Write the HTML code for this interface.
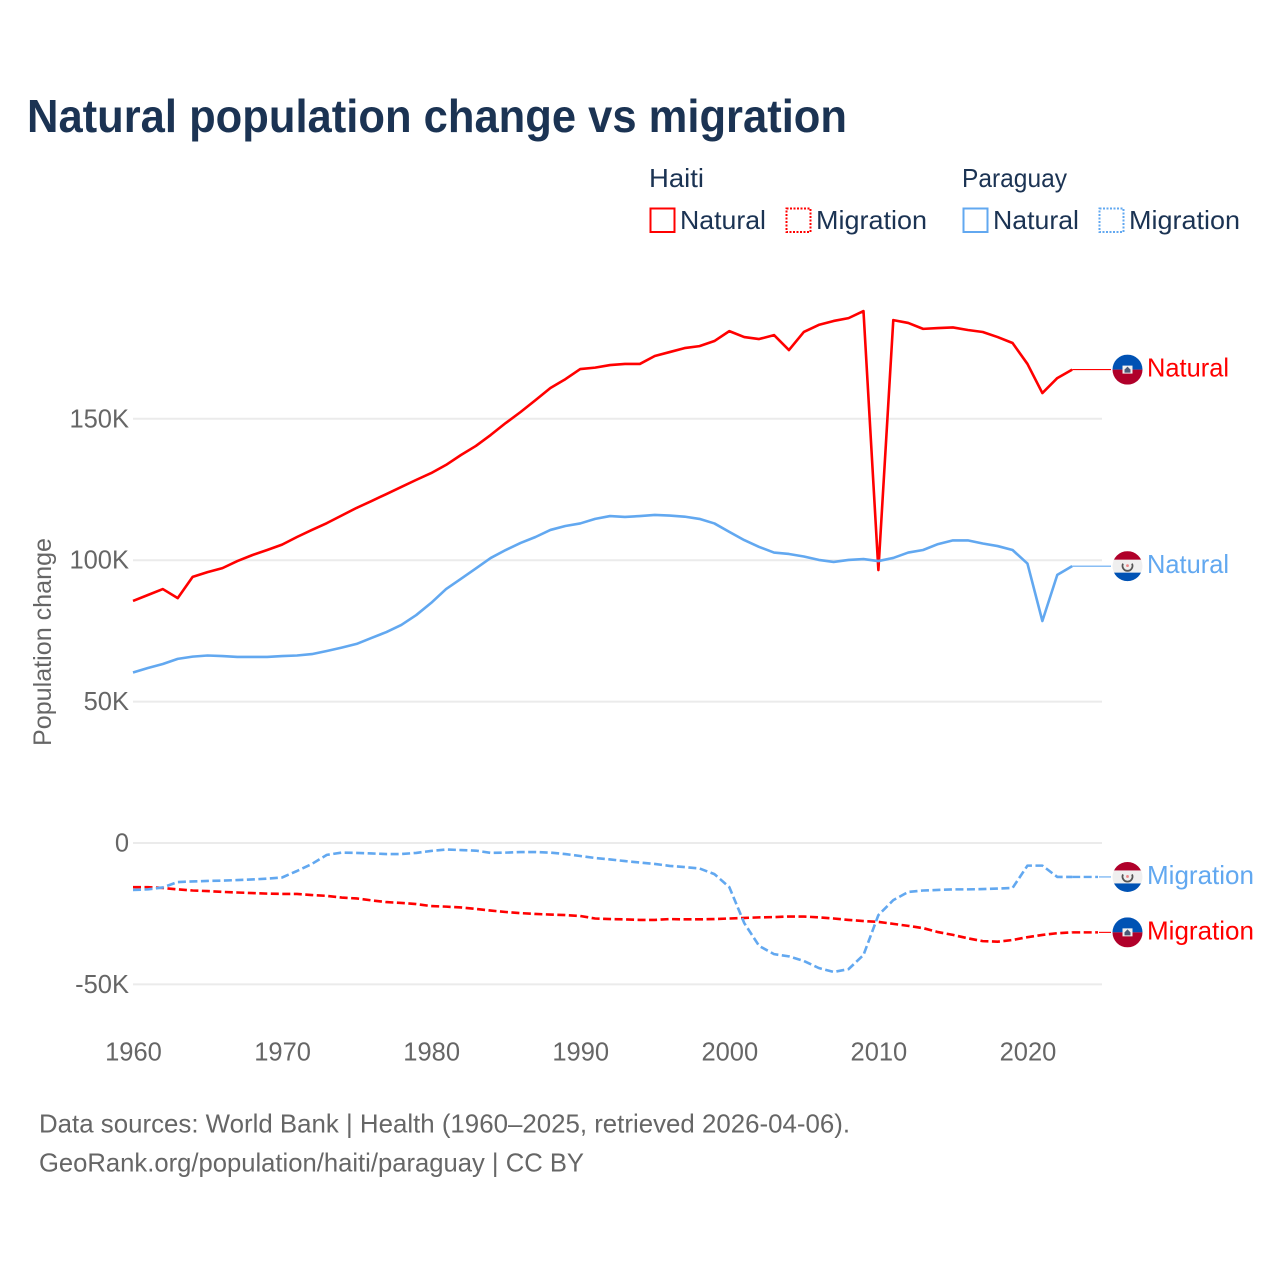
<!DOCTYPE html>
<html lang="en">
<head>
<meta charset="utf-8">
<title>Natural population change vs migration</title>
<style>
html,body{margin:0;padding:0;background:#fff;}
svg{display:block;font-family:"Liberation Sans",sans-serif;}
</style>
</head>
<body>
<svg id="chart" width="1280" height="1280" viewBox="0 0 1280 1280" xmlns="http://www.w3.org/2000/svg">
  <defs>
    <clipPath id="flag-clip"><circle cx="0" cy="0" r="15"/></clipPath>
  </defs>
  <rect width="1280" height="1280" fill="#fff"/>
  <text x="27" y="132" font-size="46" font-weight="700" fill="#1b3353" textLength="820" lengthAdjust="spacingAndGlyphs">Natural population change vs migration</text>

  <g font-size="26" fill="#1b3353">
    <text x="649" y="187" textLength="55" lengthAdjust="spacingAndGlyphs">Haiti</text>
    <text x="962" y="187" textLength="105" lengthAdjust="spacingAndGlyphs">Paraguay</text>
    <rect x="650.5" y="208.5" width="24" height="23.5" fill="none" stroke="#ff0000" stroke-width="2"/>
    <text x="680" y="229" textLength="86" lengthAdjust="spacingAndGlyphs">Natural</text>
    <rect x="786.5" y="208.5" width="24" height="23.5" fill="none" stroke="#ff0000" stroke-width="2" stroke-dasharray="2 1.5"/>
    <text x="816" y="229" textLength="111" lengthAdjust="spacingAndGlyphs">Migration</text>
    <rect x="963.5" y="208.5" width="24" height="23.5" fill="none" stroke="#62a8f0" stroke-width="2"/>
    <text x="993" y="229" textLength="86" lengthAdjust="spacingAndGlyphs">Natural</text>
    <rect x="1099.5" y="208.5" width="24" height="23.5" fill="none" stroke="#62a8f0" stroke-width="2" stroke-dasharray="2 1.5"/>
    <text x="1129" y="229" textLength="111" lengthAdjust="spacingAndGlyphs">Migration</text>
  </g>

  <g id="grid"></g>
  <g id="y-ticks"></g>
  <g id="x-ticks"></g>
  <text transform="translate(51 642) rotate(-90)" text-anchor="middle" font-size="25" fill="#666" textLength="208" lengthAdjust="spacingAndGlyphs">Population change</text>
  <g id="series"></g>
  <g id="end-labels"></g>

  <g id="flag-haiti-natural" clip-path="url(#flag-clip)">
    <rect x="-15" y="-15" width="30" height="15" fill="#0052b4"/><rect x="-15" y="0" width="30" height="15" fill="#b0002a"/>
    <rect x="-5" y="-4" width="10" height="8" fill="#f0f0f0"/><path d="M-3 3V0L0-3L3 0V3Z" fill="#4a5a78"/>
  </g>
  <g id="flag-paraguay-natural" clip-path="url(#flag-clip)">
    <rect x="-15" y="-15" width="30" height="9" fill="#b0002a"/><rect x="-15" y="-6.5" width="30" height="13" fill="#efefef"/><rect x="-15" y="6.5" width="30" height="9" fill="#0052b4"/>
    <path d="M-4.5-2.5A5 5 0 1 0 4.5-2.5" fill="none" stroke="#555" stroke-width="1.8"/><circle cx="0" cy="-0.5" r="1.4" fill="#e88"/>
  </g>
  <g id="flag-paraguay-migration" clip-path="url(#flag-clip)">
    <rect x="-15" y="-15" width="30" height="9" fill="#b0002a"/><rect x="-15" y="-6.5" width="30" height="13" fill="#efefef"/><rect x="-15" y="6.5" width="30" height="9" fill="#0052b4"/>
    <path d="M-4.5-2.5A5 5 0 1 0 4.5-2.5" fill="none" stroke="#555" stroke-width="1.8"/><circle cx="0" cy="-0.5" r="1.4" fill="#e88"/>
  </g>
  <g id="flag-haiti-migration" clip-path="url(#flag-clip)">
    <rect x="-15" y="-15" width="30" height="15" fill="#0052b4"/><rect x="-15" y="0" width="30" height="15" fill="#b0002a"/>
    <rect x="-5" y="-4" width="10" height="8" fill="#f0f0f0"/><path d="M-3 3V0L0-3L3 0V3Z" fill="#4a5a78"/>
  </g>

  <g font-size="26" fill="#666">
    <text x="39" y="1132.5" textLength="811" lengthAdjust="spacingAndGlyphs">Data sources: World Bank | Health (1960–2025, retrieved 2026-04-06).</text>
    <text x="39" y="1171.5" textLength="545" lengthAdjust="spacingAndGlyphs">GeoRank.org/population/haiti/paraguay | CC BY</text>
  </g>
</svg>
<script>
const years = [1960,1961,1962,1963,1964,1965,1966,1967,1968,1969,1970,1971,1972,1973,1974,1975,1976,1977,1978,1979,1980,1981,1982,1983,1984,1985,1986,1987,1988,1989,1990,1991,1992,1993,1994,1995,1996,1997,1998,1999,2000,2001,2002,2003,2004,2005,2006,2007,2008,2009,2010,2011,2012,2013,2014,2015,2016,2017,2018,2019,2020,2021,2022,2023];
const haitiNatural = [85.6,87.7,89.8,86.6,94.1,95.8,97.2,99.7,101.8,103.6,105.5,108.2,110.7,113.1,115.8,118.5,120.9,123.4,125.9,128.4,130.8,133.7,137.2,140.4,144.3,148.5,152.4,156.6,160.9,164,167.6,168.1,169,169.4,169.4,172.2,173.6,175,175.7,177.5,181,178.9,178.2,179.6,174.3,180.7,183.2,184.6,185.6,188.1,96.5,184.9,183.9,181.8,182.1,182.3,181.4,180.7,178.9,176.8,169.4,159.1,164.4,167.4];
const paraguayNatural = [60.3,61.9,63.3,65.1,65.9,66.3,66.1,65.8,65.8,65.8,66.1,66.3,66.8,67.9,69.1,70.4,72.5,74.6,77.1,80.6,84.9,89.8,93.4,97.1,100.8,103.6,106.1,108.2,110.7,112.1,113,114.6,115.6,115.3,115.6,116,115.8,115.4,114.6,113,110,107.1,104.7,102.7,102.2,101.3,100.1,99.4,100.1,100.4,99.7,100.8,102.7,103.6,105.7,107,107,105.9,105,103.6,98.8,78.5,94.8,97.9];
const haitiMigration = [-15.6,-15.6,-15.9,-16.4,-16.8,-17,-17.3,-17.5,-17.7,-17.9,-18,-18,-18.4,-18.7,-19.3,-19.6,-20.3,-20.9,-21.2,-21.6,-22.3,-22.5,-22.8,-23.3,-23.9,-24.4,-24.8,-25.1,-25.3,-25.5,-25.8,-26.7,-26.9,-27,-27.2,-27.2,-26.9,-27,-27,-26.9,-26.7,-26.5,-26.3,-26.2,-26,-26,-26.3,-26.7,-27.2,-27.6,-27.9,-28.6,-29.3,-30.1,-31.5,-32.5,-33.7,-34.7,-34.9,-34.3,-33.3,-32.5,-31.9,-31.6];
const paraguayMigration = [-16.6,-16.4,-15.7,-13.8,-13.6,-13.4,-13.3,-13.1,-12.9,-12.6,-12.2,-9.9,-7.4,-4.2,-3.4,-3.5,-3.7,-3.9,-3.9,-3.5,-2.8,-2.3,-2.5,-2.7,-3.5,-3.4,-3.2,-3.2,-3.4,-3.9,-4.6,-5.3,-5.8,-6.4,-6.9,-7.4,-8.1,-8.5,-9,-11,-15.6,-28.3,-36.4,-39.3,-40.1,-41.7,-44.2,-45.6,-44.6,-39.6,-25.5,-20.2,-17.3,-16.8,-16.6,-16.4,-16.4,-16.3,-16.1,-15.9,-8,-8,-12,-12];
const yTickValues = [-50,0,50,100,150];
const yTickLabels = ['-50K','0','50K','100K','150K'];
const xTickValues = [1960,1970,1980,1990,2000,2010,2020];
const xTickLabels = ['1960','1970','1980','1990','2000','2010','2020'];

const NS = 'http://www.w3.org/2000/svg';
const RED = '#ff0000';
const BLUE = '#62a8f0';
function xScale(year) { return 133 + (year - 1960) * (1102 - 133) / 65; }
function yScale(value) { return 843 - value * 2.828; }
function make(tag, parent, attrs) {
  const el = document.createElementNS(NS, tag);
  for (const key in attrs) el.setAttribute(key, attrs[key]);
  parent.appendChild(el);
  return el;
}

const grid = document.getElementById('grid');
const yAxis = document.getElementById('y-ticks');
yTickValues.forEach(function (value, i) {
  const line = make('line', grid, {x1: 133, x2: 1102, y1: yScale(value), y2: yScale(value), stroke: '#ebebeb', 'stroke-width': 2});
  
  
  const label = make('text', yAxis, {x: 129, y: yScale(value) + 8.5, 'text-anchor': 'end', 'font-size': 25.5, fill: '#666'});
  label.textContent = yTickLabels[i];
  
  
});

const xAxis = document.getElementById('x-ticks');
xTickValues.forEach(function (year, i) {
  const label = make('text', xAxis, {x: xScale(year) + 0.5, y: 1060.5, 'text-anchor': 'middle', 'font-size': 25.5, fill: '#666'});
  label.textContent = xTickLabels[i];
  
  
});

function linePath(values) {
  return values.map(function (v, i) {
    return (i ? 'L' : 'M') + xScale(years[i]).toFixed(2) + ' ' + yScale(v).toFixed(2);
  }).join('');
}

const seriesGroup = document.getElementById('series');
const labelGroup = document.getElementById('end-labels');

function drawSeries(values, color, dashed, name, labelText, flagId) {
  const path = make('path', seriesGroup, {d: linePath(values), fill: 'none', stroke: color, 'stroke-width': 2.6, 'stroke-linejoin': 'round'});
  if (dashed) path.setAttribute('stroke-dasharray', '8 3.5');
  
  

  const last = values[values.length - 1];
  const lastX = xScale(years[years.length - 1]);
  const y = yScale(last);
  if (dashed) {
    const thick = make('line', labelGroup, {x1: lastX, x2: 1098, y1: y, y2: y, stroke: color, 'stroke-width': 2.4, 'stroke-dasharray': '8 3.5'});
    
    
  }
  const connector = make('line', labelGroup, {x1: dashed ? 1099 : lastX, x2: 1111, y1: y, y2: y, stroke: color, 'stroke-width': 1.1});
  
  

  const label = make('text', labelGroup, {x: 1147, y: y + 7, 'font-size': 26, fill: color, textLength: labelText === 'Natural' ? 82 : 107, lengthAdjust: 'spacingAndGlyphs'});
  label.textContent = labelText;
  
  

  document.getElementById(flagId).setAttribute('transform', 'translate(1127.5 ' + y.toFixed(2) + ')');
}

drawSeries(haitiNatural, RED, false, 'haiti-natural', 'Natural', 'flag-haiti-natural');
drawSeries(haitiMigration, RED, true, 'haiti-migration', 'Migration', 'flag-haiti-migration');
drawSeries(paraguayNatural, BLUE, false, 'paraguay-natural', 'Natural', 'flag-paraguay-natural');
drawSeries(paraguayMigration, BLUE, true, 'paraguay-migration', 'Migration', 'flag-paraguay-migration');
</script>
</body>
</html>
